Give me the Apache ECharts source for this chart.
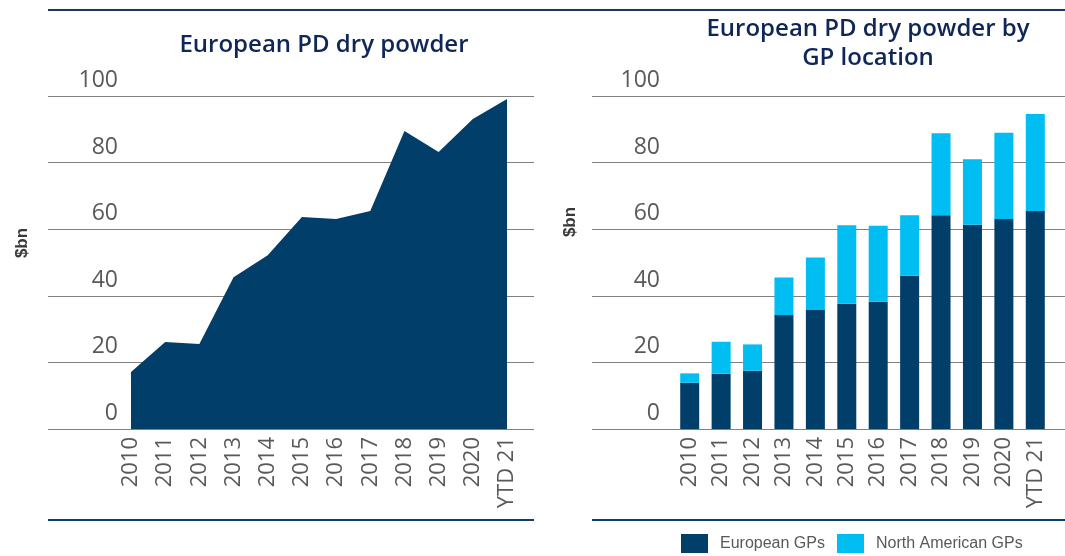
<!DOCTYPE html>
<html>
<head>
<meta charset="utf-8">
<script src="https://cdn.jsdelivr.net/npm/echarts@6/dist/echarts.min.js"></script>
<style>
  html, body { margin: 0; padding: 0; background: #fff; }
  #chart { width: 1065px; height: 556px; }
</style>
</head>
<body>
<div id="chart"></div>
<script>
// data
const categories = ['2010', '2011', '2012', '2013', '2014', '2015', '2016', '2017', '2018', '2019', '2020', 'YTD 21']
const totalDryPowder = [17.1, 26.1, 25.5, 45.6, 52.2, 63.7, 63.1, 65.5, 89.5, 83.2, 93.1, 99.1]
const europeanGPs = [13.9, 16.6, 17.5, 34.2, 35.7, 37.6, 38.2, 46.0, 64.2, 61.3, 63.1, 65.5]
const northAmericanGPs = [2.8, 9.6, 7.9, 11.3, 15.8, 23.6, 22.8, 18.2, 24.6, 19.7, 25.9, 29.1]
const yMin = 0
const yMax = 100
const yStep = 20

const navy = '#023e6a'
const cyan = '#00bdf2'
const grey = '#595959'
const titleColor = '#0e2658'
const font = '"Open Sans", "DejaVu Sans", sans-serif'
const narrowFont = '"Liberation Sans Narrow", "Liberation Sans", sans-serif'

const chart = echarts.init(document.getElementById('chart'))

// grids 0/2 carry the gridlines and tick labels, grids 1/3 carry the data
const gridTop = 96
const gridHeight = 333

function gridAxis(gridIndex, labelMargin) {
  return {
    type: 'value',
    gridIndex: gridIndex,
    min: yMin,
    max: yMax,
    interval: yStep,
    axisLine: { show: false },
    axisTick: { show: false },
    splitLine: { show: true, lineStyle: { color: '#808080', width: 1 } },
    axisLabel: {
      margin: labelMargin,
      align: 'right',
      verticalAlign: 'bottom',
      padding: [0, 0, 4, 0],
      color: grey,
      fontFamily: font,
      fontSize: 23
    }
  }
}

function dataYAxis(gridIndex) {
  return { type: 'value', gridIndex: gridIndex, min: yMin, max: yMax, show: false }
}

function frameXAxis(gridIndex) {
  return { type: 'value', gridIndex: gridIndex, min: 0, max: 1, show: false }
}

function catAxis(gridIndex, boundaryGap) {
  return {
    type: 'category',
    gridIndex: gridIndex,
    data: categories,
    boundaryGap: boundaryGap,
    axisLine: { show: false },
    axisTick: { show: false },
    axisLabel: {
      rotate: 90,
      margin: 8,
      interval: 0,
      color: grey,
      fontFamily: font,
      fontSize: 22
    }
  }
}

function legendAt(left, name) {
  return {
    left: left,
    top: 529,
    itemWidth: 27,
    itemHeight: 19,
    icon: 'rect',
    textStyle: { color: grey, fontFamily: narrowFont, fontSize: 16, padding: [0, 0, 0, 7] },
    data: [name]
  }
}

const option = {
  animation: false,
  backgroundColor: '#fff',
  title: [
    {
      text: 'European PD dry powder',
      left: 319,
      top: 26,
      textAlign: 'center',
      textStyle: { color: titleColor, fontFamily: font, fontWeight: 600, fontSize: 24, lineHeight: 29 }
    },
    {
      text: 'European PD dry powder by\nGP location',
      left: 863,
      top: 10,
      textAlign: 'center',
      textStyle: { color: titleColor, fontFamily: font, fontWeight: 600, fontSize: 24, lineHeight: 29 }
    }
  ],
  legend: [legendAt(676, 'European GPs'), legendAt(832, 'North American GPs')],
  grid: [
    { left: 48, right: 531, top: gridTop, height: gridHeight },
    { left: 131, right: 558, top: gridTop, height: gridHeight },
    { left: 592, right: 0, top: gridTop, height: gridHeight },
    { left: 674, right: 14, top: gridTop, height: gridHeight }
  ],
  xAxis: [frameXAxis(0), catAxis(1, false), frameXAxis(2), catAxis(3, true)],
  yAxis: [gridAxis(0, -70), dataYAxis(1), gridAxis(2, -68), dataYAxis(3)],
  graphic: [
    { type: 'line', shape: { x1: 48, y1: 10, x2: 1065, y2: 10 }, style: { stroke: '#1d3563', lineWidth: 2 } },
    { type: 'line', shape: { x1: 48, y1: 520, x2: 534, y2: 520 }, style: { stroke: '#0d3f6e', lineWidth: 2 } },
    { type: 'line', shape: { x1: 592, y1: 520, x2: 1065, y2: 520 }, style: { stroke: '#0d3f6e', lineWidth: 2 } },
    {
      type: 'text', x: 22, y: 243, rotation: Math.PI / 2,
      style: { text: '$bn', fill: '#3a3a3a', font: 'bold 17px ' + narrowFont, align: 'center', verticalAlign: 'middle' }
    },
    {
      type: 'text', x: 570, y: 222, rotation: Math.PI / 2,
      style: { text: '$bn', fill: '#3a3a3a', font: 'bold 17px ' + narrowFont, align: 'center', verticalAlign: 'middle' }
    }
  ],
  series: [
    {
      name: 'European PD dry powder',
      type: 'line',
      xAxisIndex: 1,
      yAxisIndex: 1,
      data: totalDryPowder,
      symbol: 'none',
      lineStyle: { width: 0 },
      areaStyle: { color: navy, opacity: 1 },
      z: 3
    },
    {
      name: 'European GPs',
      type: 'bar',
      xAxisIndex: 3,
      yAxisIndex: 3,
      stack: 'gp',
      data: europeanGPs,
      barWidth: 19,
      itemStyle: { color: navy },
      z: 3
    },
    {
      name: 'North American GPs',
      type: 'bar',
      xAxisIndex: 3,
      yAxisIndex: 3,
      stack: 'gp',
      data: northAmericanGPs,
      barWidth: 19,
      itemStyle: { color: cyan },
      z: 3
    }
  ]
}

chart.setOption(option)
</script>
</body>
</html>
